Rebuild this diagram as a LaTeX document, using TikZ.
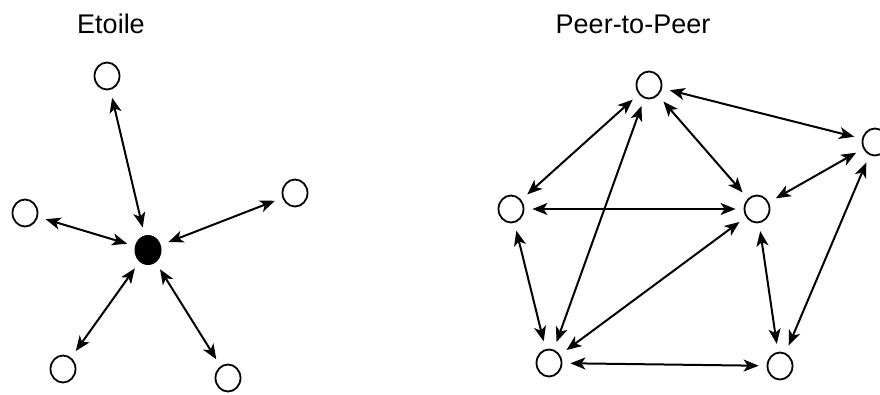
\documentclass[tikz,border=0pt]{standalone}
\usepackage{fontspec}
\setmainfont{Liberation Sans}
\usetikzlibrary{arrows.meta, shapes.geometric}

\tikzset{
  peer/.style={ellipse, draw, line width=1.8pt, minimum width=25pt, minimum height=27pt, inner sep=0pt},
  hub/.style={ellipse, fill=black, minimum width=27pt, minimum height=30pt, inner sep=0pt},
  link/.style={{Stealth[length=15pt,width=12pt,inset=4pt]}-{Stealth[length=15pt,width=12pt,inset=4pt]}, line width=2pt, shorten >=8pt, shorten <=8pt},
  titre/.style={font=\fontsize{27}{32}\selectfont, anchor=base}
}

\begin{document}
\begin{tikzpicture}[x=1pt,y=-1pt]
  \clip (0,0) rectangle (880,394);
  % Etoile
  \node[titre] (etoile) at (111,33) {Etoile};
  \node[hub]  (s0) at (148,250) {};
  \node[peer] (s1) at (107,76) {};
  \node[peer] (s2) at (25,213) {};
  \node[peer] (s3) at (295,193) {};
  \node[peer] (s4) at (63,369) {};
  \node[peer] (s5) at (228,378) {};
  \foreach \s in {s1,s2,s3,s4,s5}
    \draw[link] (s0) -- (\s);

  % Peer-to-Peer
  \node[titre] (p2p) at (633,33) {Peer-to-Peer};
  \node[peer] (p1) at (649,85) {};
  \node[peer] (p2) at (875,142) {};
  \node[peer] (p3) at (511,209) {};
  \node[peer] (p4) at (757,209) {};
  \node[peer] (p5) at (549,363) {};
  \node[peer] (p6) at (780,366) {};
  \foreach \a/\b in {p1/p2, p1/p3, p1/p4, p1/p5, p2/p4, p2/p6,
                     p3/p4, p3/p5, p4/p5, p4/p6, p5/p6}
    \draw[link] (\a) -- (\b);
\end{tikzpicture}
\end{document}
